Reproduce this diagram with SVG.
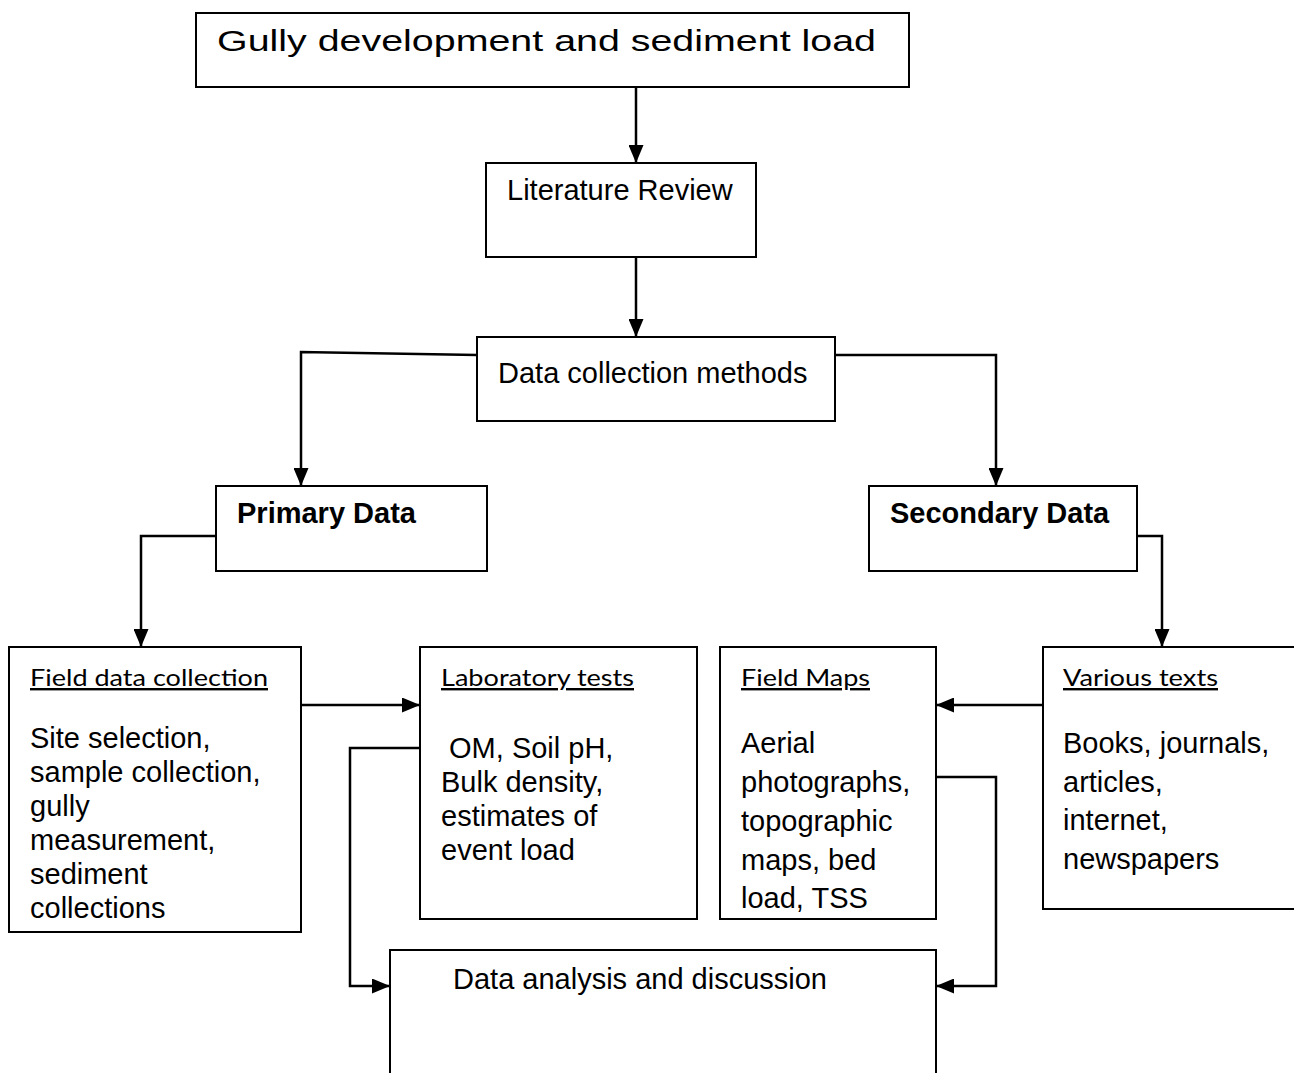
<svg xmlns="http://www.w3.org/2000/svg" width="1294" height="1073" viewBox="0 0 1294 1073">
<defs>
<marker id="ah" viewBox="0 0 18 15" refX="18" refY="7.5" markerWidth="18" markerHeight="15" markerUnits="userSpaceOnUse" orient="auto">
<path d="M0,0 L18,7.5 L0,15 Z" fill="#000"/>
</marker>
</defs>
<style>
.box{fill:#fff;stroke:#000;stroke-width:2}
.t{font-family:"Liberation Sans",Arial,sans-serif;font-size:29px;fill:#000}
.b{font-family:"Liberation Sans",Arial,sans-serif;font-size:29px;font-weight:bold;fill:#000}
.h{font-family:Lato,"Open Sans",sans-serif;font-size:24px;fill:#000;text-decoration:underline}
.c{fill:none;stroke:#000;stroke-width:2.5}
</style>
<rect width="1294" height="1073" fill="#fff"/>
<g id="connectors">
<path class="c" d="M636,87 V163" marker-end="url(#ah)"/>
<path class="c" d="M636,257 V337" marker-end="url(#ah)"/>
<path class="c" d="M477,355 L301,352 V486" marker-end="url(#ah)"/>
<path class="c" d="M835,355 H996 V486" marker-end="url(#ah)"/>
<path class="c" d="M216,536 H141 V647" marker-end="url(#ah)"/>
<path class="c" d="M1137,536 H1162 V647" marker-end="url(#ah)"/>
<path class="c" d="M301,705 H420" marker-end="url(#ah)"/>
<path class="c" d="M420,748 H350 V986 H390" marker-end="url(#ah)"/>
<path class="c" d="M1043,705 H936" marker-end="url(#ah)"/>
<path class="c" d="M936,777 H996 V986 H936" marker-end="url(#ah)"/>
</g>
<g id="n-top">
<rect class="box" x="196" y="13" width="713" height="74"/>
<text class="t" x="217" y="51" style="font-size:30px" textLength="659" lengthAdjust="spacingAndGlyphs">Gully development and sediment load</text>
</g>
<g id="n-lit">
<rect class="box" x="486" y="163" width="270" height="94"/>
<text class="t" x="507" y="200">Literature Review</text>
</g>
<g id="n-dcm">
<rect class="box" x="477" y="337" width="358" height="84"/>
<text class="t" x="498" y="383">Data collection methods</text>
</g>
<g id="n-primary">
<rect class="box" x="216" y="486" width="271" height="85"/>
<text class="b" x="237" y="523">Primary Data</text>
</g>
<g id="n-secondary">
<rect class="box" x="869" y="486" width="268" height="85"/>
<text class="b" x="890" y="523">Secondary Data</text>
</g>
<g id="n-field">
<rect class="box" x="9" y="647" width="292" height="285"/>
<text class="h" x="30" y="686" textLength="238" lengthAdjust="spacingAndGlyphs">Field data collection</text>
<text class="t" x="30" y="748">Site selection,</text>
<text class="t" x="30" y="782">sample collection,</text>
<text class="t" x="30" y="816">gully</text>
<text class="t" x="30" y="850">measurement,</text>
<text class="t" x="30" y="884">sediment</text>
<text class="t" x="30" y="918">collections</text>
</g>
<g id="n-lab">
<rect class="box" x="420" y="647" width="277" height="272"/>
<text class="h" x="441" y="686" textLength="193" lengthAdjust="spacingAndGlyphs">Laboratory tests</text>
<text class="t" x="441" y="758" xml:space="preserve"> OM, Soil pH,</text>
<text class="t" x="441" y="792">Bulk density,</text>
<text class="t" x="441" y="826">estimates of</text>
<text class="t" x="441" y="860">event load</text>
</g>
<g id="n-maps">
<rect class="box" x="720" y="647" width="216" height="272"/>
<text class="h" x="741" y="686" textLength="129" lengthAdjust="spacingAndGlyphs">Field Maps</text>
<text class="t" x="741" y="753">Aerial</text>
<text class="t" x="741" y="792">photographs,</text>
<text class="t" x="741" y="831">topographic</text>
<text class="t" x="741" y="870">maps, bed</text>
<text class="t" x="741" y="908">load, TSS</text>
</g>
<g id="n-texts">
<rect class="box" x="1043" y="647" width="270" height="262"/>
<text class="h" x="1063" y="686" textLength="155" lengthAdjust="spacingAndGlyphs">Various texts</text>
<text class="t" x="1063" y="753">Books, journals,</text>
<text class="t" x="1063" y="792">articles,</text>
<text class="t" x="1063" y="830">internet,</text>
<text class="t" x="1063" y="869">newspapers</text>
</g>
<g id="n-analysis">
<rect class="box" x="390" y="950" width="546" height="140"/>
<text class="t" x="453" y="989">Data analysis and discussion</text>
</g>
</svg>
